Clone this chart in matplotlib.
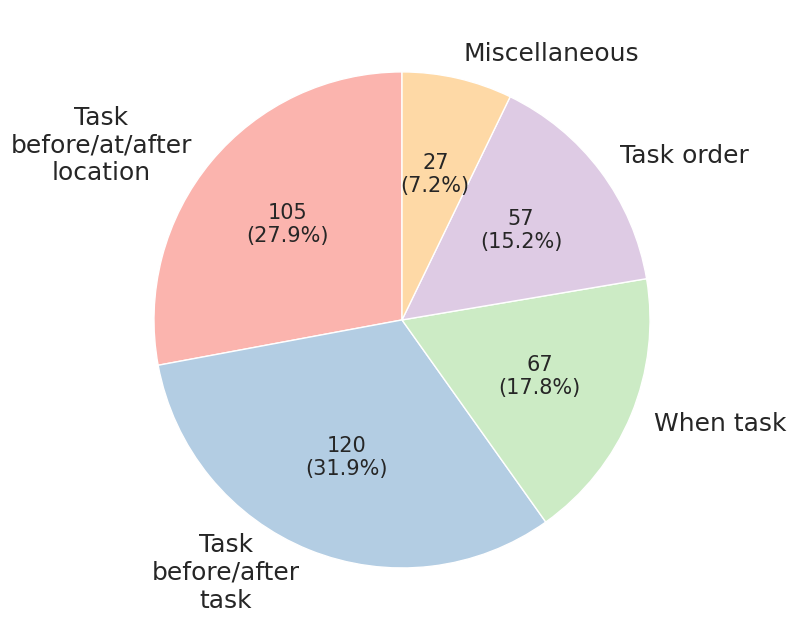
import matplotlib
matplotlib.use("Agg")
import matplotlib.pyplot as plt

labels = ["Task\nbefore/at/after\nlocation", "Task\nbefore/after\ntask",
          "When task", "Task order", "Miscellaneous"]
counts = [105, 120, 67, 57, 27]
colors = ["#fbb4ae", "#b3cde3", "#ccebc5", "#decbe4", "#fed9a6"]

total = sum(counts)


def fmt(pct):
    n = int(round(pct * total / 100.0))
    return "{}\n({:.1f}%)".format(n, pct)


fig = plt.figure(figsize=(7.97, 6.4), dpi=100)
ax = fig.add_axes([0.1154, 0.0156, 0.778, 0.969])
texts = ax.pie(counts, labels=labels, colors=colors, autopct=fmt, startangle=90,
               counterclock=True, wedgeprops={"edgecolor": "white", "linewidth": 1},
               textprops={"fontsize": 18, "color": "#262626"})
for t in texts[1]:
    t.set_multialignment("center")
for t in texts[2]:
    t.set_fontsize(15)
ax.set_aspect("equal")

fig.savefig("out.png", dpi=100)
